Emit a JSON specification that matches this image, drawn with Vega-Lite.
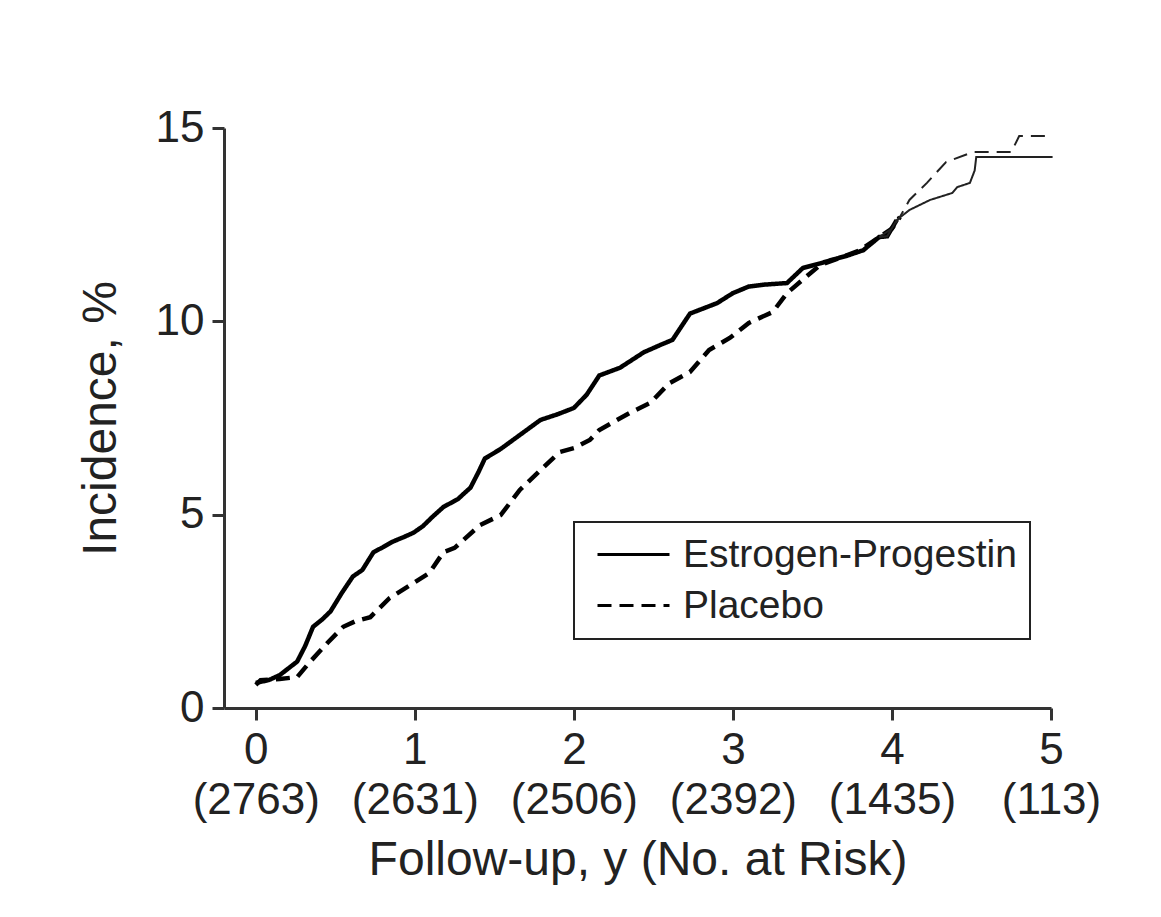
{
  "$schema": "https://vega.github.io/schema/vega-lite/v6.json",
  "autosize": {"type": "none"},
  "width": 827,
  "height": 580,
  "padding": {"left": 224, "top": 128, "right": 110, "bottom": 209},
  "background": "white",
  "config": {
    "view": {"stroke": null},
    "axis": {
      "grid": false,
      "domainColor": "#333333",
      "domainWidth": 3,
      "tickColor": "#333333",
      "tickWidth": 3,
      "tickSize": 12,
      "labelFont": "Liberation Sans",
      "labelFontSize": 44,
      "labelColor": "#222222",
      "titleFont": "Liberation Sans",
      "titleFontSize": 48,
      "titleFontWeight": "normal",
      "titleColor": "#222222"
    },
    "legend": {
      "labelFont": "Liberation Sans",
      "labelFontSize": 39,
      "labelColor": "#222222",
      "labelLimit": 600,
      "strokeColor": "#222222",
      "strokeWidth": 2,
      "padding": 13,
      "rowPadding": 11,
      "symbolType": "M-2.4,0L2.4,0",
      "symbolSize": 900,
      "symbolStrokeWidth": 3,
      "symbolOffset": 27,
      "labelOffset": 30
    }
  },
  "data": {
    "values": [
      {"t": 0.0, "v": 0.65, "g": "Estrogen-Progestin"},
      {"t": 0.08, "v": 0.72, "g": "Estrogen-Progestin"},
      {"t": 0.15, "v": 0.85, "g": "Estrogen-Progestin"},
      {"t": 0.26, "v": 1.2, "g": "Estrogen-Progestin"},
      {"t": 0.31, "v": 1.6, "g": "Estrogen-Progestin"},
      {"t": 0.36, "v": 2.1, "g": "Estrogen-Progestin"},
      {"t": 0.42, "v": 2.3, "g": "Estrogen-Progestin"},
      {"t": 0.47, "v": 2.5, "g": "Estrogen-Progestin"},
      {"t": 0.54, "v": 2.97, "g": "Estrogen-Progestin"},
      {"t": 0.61, "v": 3.4, "g": "Estrogen-Progestin"},
      {"t": 0.67, "v": 3.57, "g": "Estrogen-Progestin"},
      {"t": 0.74, "v": 4.03, "g": "Estrogen-Progestin"},
      {"t": 0.8, "v": 4.16, "g": "Estrogen-Progestin"},
      {"t": 0.86, "v": 4.3, "g": "Estrogen-Progestin"},
      {"t": 0.93, "v": 4.42, "g": "Estrogen-Progestin"},
      {"t": 0.99, "v": 4.53, "g": "Estrogen-Progestin"},
      {"t": 1.05, "v": 4.7, "g": "Estrogen-Progestin"},
      {"t": 1.11, "v": 4.94, "g": "Estrogen-Progestin"},
      {"t": 1.18, "v": 5.2, "g": "Estrogen-Progestin"},
      {"t": 1.27, "v": 5.4, "g": "Estrogen-Progestin"},
      {"t": 1.35, "v": 5.7, "g": "Estrogen-Progestin"},
      {"t": 1.4, "v": 6.1, "g": "Estrogen-Progestin"},
      {"t": 1.44, "v": 6.45, "g": "Estrogen-Progestin"},
      {"t": 1.54, "v": 6.7, "g": "Estrogen-Progestin"},
      {"t": 1.66, "v": 7.06, "g": "Estrogen-Progestin"},
      {"t": 1.79, "v": 7.45, "g": "Estrogen-Progestin"},
      {"t": 1.9, "v": 7.6, "g": "Estrogen-Progestin"},
      {"t": 2.0, "v": 7.76, "g": "Estrogen-Progestin"},
      {"t": 2.08, "v": 8.1, "g": "Estrogen-Progestin"},
      {"t": 2.16, "v": 8.6, "g": "Estrogen-Progestin"},
      {"t": 2.29, "v": 8.8, "g": "Estrogen-Progestin"},
      {"t": 2.44, "v": 9.2, "g": "Estrogen-Progestin"},
      {"t": 2.55, "v": 9.4, "g": "Estrogen-Progestin"},
      {"t": 2.62, "v": 9.52, "g": "Estrogen-Progestin"},
      {"t": 2.73, "v": 10.2, "g": "Estrogen-Progestin"},
      {"t": 2.9, "v": 10.47, "g": "Estrogen-Progestin"},
      {"t": 3.0, "v": 10.73, "g": "Estrogen-Progestin"},
      {"t": 3.1, "v": 10.9, "g": "Estrogen-Progestin"},
      {"t": 3.2, "v": 10.95, "g": "Estrogen-Progestin"},
      {"t": 3.34, "v": 10.99, "g": "Estrogen-Progestin"},
      {"t": 3.44, "v": 11.38, "g": "Estrogen-Progestin"},
      {"t": 3.55, "v": 11.5, "g": "Estrogen-Progestin"},
      {"t": 3.63, "v": 11.6, "g": "Estrogen-Progestin"},
      {"t": 3.72, "v": 11.7, "g": "Estrogen-Progestin"},
      {"t": 3.82, "v": 11.84, "g": "Estrogen-Progestin"},
      {"t": 3.92, "v": 12.18, "g": "Estrogen-Progestin"},
      {"t": 3.97, "v": 12.2, "g": "Estrogen-Progestin"},
      {"t": 4.03, "v": 12.62, "g": "Estrogen-Progestin"},
      {"t": 4.11, "v": 12.88, "g": "Estrogen-Progestin"},
      {"t": 4.24, "v": 13.14, "g": "Estrogen-Progestin"},
      {"t": 4.38, "v": 13.32, "g": "Estrogen-Progestin"},
      {"t": 4.41, "v": 13.47, "g": "Estrogen-Progestin"},
      {"t": 4.49, "v": 13.58, "g": "Estrogen-Progestin"},
      {"t": 4.52, "v": 13.9, "g": "Estrogen-Progestin"},
      {"t": 4.53, "v": 14.25, "g": "Estrogen-Progestin"},
      {"t": 5.01, "v": 14.25, "g": "Estrogen-Progestin"},
      {"t": 0.0, "v": 0.6, "g": "Placebo"},
      {"t": 0.03, "v": 0.72, "g": "Placebo"},
      {"t": 0.15, "v": 0.75, "g": "Placebo"},
      {"t": 0.26, "v": 0.8, "g": "Placebo"},
      {"t": 0.34, "v": 1.19, "g": "Placebo"},
      {"t": 0.45, "v": 1.68, "g": "Placebo"},
      {"t": 0.55, "v": 2.1, "g": "Placebo"},
      {"t": 0.63, "v": 2.25, "g": "Placebo"},
      {"t": 0.72, "v": 2.35, "g": "Placebo"},
      {"t": 0.84, "v": 2.84, "g": "Placebo"},
      {"t": 0.99, "v": 3.23, "g": "Placebo"},
      {"t": 1.09, "v": 3.49, "g": "Placebo"},
      {"t": 1.18, "v": 4.03, "g": "Placebo"},
      {"t": 1.25, "v": 4.14, "g": "Placebo"},
      {"t": 1.41, "v": 4.73, "g": "Placebo"},
      {"t": 1.54, "v": 4.99, "g": "Placebo"},
      {"t": 1.66, "v": 5.64, "g": "Placebo"},
      {"t": 1.79, "v": 6.15, "g": "Placebo"},
      {"t": 1.91, "v": 6.62, "g": "Placebo"},
      {"t": 2.0, "v": 6.72, "g": "Placebo"},
      {"t": 2.1, "v": 6.93, "g": "Placebo"},
      {"t": 2.16, "v": 7.19, "g": "Placebo"},
      {"t": 2.35, "v": 7.63, "g": "Placebo"},
      {"t": 2.48, "v": 7.89, "g": "Placebo"},
      {"t": 2.6, "v": 8.4, "g": "Placebo"},
      {"t": 2.73, "v": 8.69, "g": "Placebo"},
      {"t": 2.85, "v": 9.26, "g": "Placebo"},
      {"t": 2.98, "v": 9.57, "g": "Placebo"},
      {"t": 3.1, "v": 9.96, "g": "Placebo"},
      {"t": 3.25, "v": 10.24, "g": "Placebo"},
      {"t": 3.34, "v": 10.73, "g": "Placebo"},
      {"t": 3.46, "v": 11.15, "g": "Placebo"},
      {"t": 3.55, "v": 11.46, "g": "Placebo"},
      {"t": 3.67, "v": 11.64, "g": "Placebo"},
      {"t": 3.8, "v": 11.84, "g": "Placebo"},
      {"t": 3.92, "v": 12.18, "g": "Placebo"},
      {"t": 4.0, "v": 12.4, "g": "Placebo"},
      {"t": 4.05, "v": 12.7, "g": "Placebo"},
      {"t": 4.11, "v": 13.14, "g": "Placebo"},
      {"t": 4.22, "v": 13.58, "g": "Placebo"},
      {"t": 4.34, "v": 14.12, "g": "Placebo"},
      {"t": 4.51, "v": 14.38, "g": "Placebo"},
      {"t": 4.75, "v": 14.38, "g": "Placebo"},
      {"t": 4.8, "v": 14.79, "g": "Placebo"},
      {"t": 5.01, "v": 14.79, "g": "Placebo"}
    ]
  },
  "encoding": {
    "x": {
      "field": "t",
      "type": "quantitative",
      "scale": {"domain": [-0.2, 5], "nice": false, "zero": false},
      "axis": {
        "title": "Follow-up, y (No. at Risk)",
        "values": [0, 1, 2, 3, 4, 5],
        "labelFlush": false,
        "labelOverlap": false,
        "labelLineHeight": 50,
        "labelPadding": 8,
        "titlePadding": 14,
        "labelExpr": "[datum.label, datum.value == 0 ? '(2763)' : datum.value == 1 ? '(2631)' : datum.value == 2 ? '(2506)' : datum.value == 3 ? '(2392)' : datum.value == 4 ? '(1435)' : '(113)']"
      }
    },
    "y": {
      "field": "v",
      "type": "quantitative",
      "scale": {"domain": [0, 15], "nice": false},
      "axis": {
        "title": "Incidence, %",
        "values": [0, 5, 10, 15],
        "labelPadding": 8,
        "titlePadding": 30
      }
    },
    "strokeDash": {
      "field": "g",
      "type": "nominal",
      "scale": {"domain": ["Estrogen-Progestin", "Placebo"], "range": [[1, 0], [14, 8]]},
      "legend": {"title": null, "orient": "none", "legendX": 350, "legendY": 394}
    },
    "order": {"field": "t", "type": "quantitative"}
  },
  "layer": [
    {
      "transform": [{"filter": "datum.t <= 4.05"}],
      "mark": {"type": "line", "stroke": "black", "strokeWidth": 4.5, "clip": false}
    },
    {
      "transform": [{"filter": "datum.t >= 3.92"}],
      "mark": {"type": "line", "stroke": "#222222", "strokeWidth": 2, "clip": false}
    }
  ]
}
